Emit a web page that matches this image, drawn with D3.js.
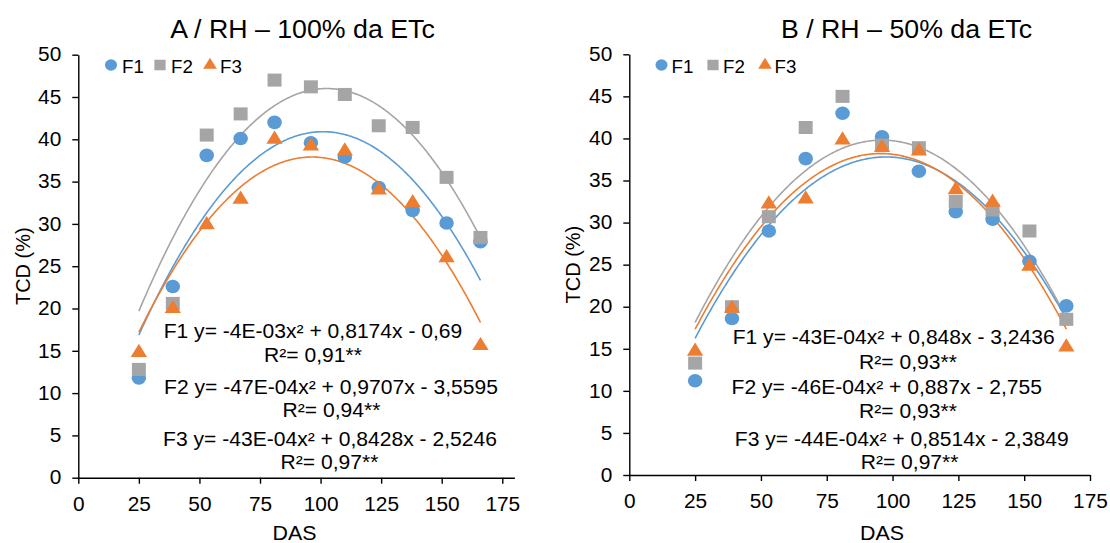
<!DOCTYPE html>
<html>
<head>
<meta charset="utf-8">
<script src="https://cdn.jsdelivr.net/npm/d3@7/dist/d3.min.js"></script>
<style>
  html, body { margin: 0; padding: 0; background: #fff; }
  svg { display: block; }
  text { font-family: "Liberation Sans", Arial, sans-serif; fill: #000; }
</style>
</head>
<body>
<svg id="chart" width="1110" height="543"></svg>
<script>
// ---------------- data ----------------
const das = [25, 39, 53, 67, 81, 96, 110, 124, 138, 152, 166];
const xTicks = [0, 25, 50, 75, 100, 125, 150, 175];
const yTicks = [0, 5, 10, 15, 20, 25, 30, 35, 40, 45, 50];
const seriesNames = ["F1", "F2", "F3"];

// Panel A: RH - 100% da ETc
const a_F1 = [11.8, 22.6, 38.1, 40.1, 42.0, 39.6, 37.9, 34.3, 31.6, 30.1, 27.9];
const a_F2 = [12.8, 20.6, 40.5, 43.0, 47.0, 46.2, 45.3, 41.6, 41.4, 35.5, 28.4];
const a_F3 = [14.8, 20.0, 29.9, 32.9, 40.0, 39.2, 38.6, 34.0, 32.5, 26.0, 15.6];
// Panel B: RH - 50% da ETc
const b_F1 = [11.2, 18.6, 29.0, 37.6, 43.0, 40.2, 36.1, 31.3, 30.4, 25.4, 20.1];
const b_F2 = [13.3, 20.0, 30.7, 41.3, 45.0, 39.2, 38.9, 32.5, 31.5, 29.0, 18.5];
const b_F3 = [14.7, 19.8, 32.2, 32.8, 39.8, 38.9, 38.5, 33.9, 32.4, 24.8, 15.2];

// quadratic trendline coefficients [a, b, c] (y = a x^2 + b x + c), estimated from the drawn curves
const trendA = [[-0.00416, 0.8403, -1.536], [-0.00438, 0.8979, -0.017], [-0.00405, 0.7817, 0.185]];
const trendB = [[-0.00410, 0.7995, -1.176], [-0.00430, 0.8256, 0.171], [-0.00420, 0.8022, -0.105]];
const trendRange = [25, 166];

const titles = ["A / RH \u2013 100% da ETc", "B / RH \u2013 50% da ETc"];
const eqA = ["F1 y= -4E-03x\u00B2 + 0,8174x - 0,69", "F2 y= -47E-04x\u00B2 + 0,9707x - 3,5595", "F3 y= -43E-04x\u00B2 + 0,8428x - 2,5246"];
const r2A = ["R\u00B2= 0,91**", "R\u00B2= 0,94**", "R\u00B2= 0,97**"];
const eqB = ["F1 y= -43E-04x\u00B2 + 0,848x - 3,2436", "F2 y= -46E-04x\u00B2 + 0,887x - 2,755", "F3 y= -44E-04x\u00B2 + 0,8514x - 2,3849"];
const r2B = ["R\u00B2= 0,93**", "R\u00B2= 0,93**", "R\u00B2= 0,97**"];
const xLabel = "DAS";
const yLabel = "TCD (%)";

// ---------------- styles / layout ----------------
const colors = ["#5B9BD5", "#A5A5A5", "#ED7D31"];
const symbols = [d3.symbolCircle, d3.symbolSquare, d3.symbolTriangle];
const markerSize = [145, 170, 100];
const legendSize = [100, 110, 70];
const SX = 1.07; // horizontal stretch of the reference

const panels = [
  {
    series: [a_F1, a_F2, a_F3], trend: trendA, eq: eqA, r2: r2A, title: titles[0],
    xmax: 180, xr: [78.3, 514.4], yr: [477.7, 54.7],
    titleX: 302.5, titleY: 38,
    legendMarkX: [111, 160, 210], legendTextX: [122, 171, 220],
    eqPos: [[313, 338.3], [331, 394], [330, 445.7]],
    r2Pos: [[313, 361.7], [331.5, 417.3], [329.5, 469]],
    yLabelX: 23, dasX: 294.5
  },
  {
    series: [b_F1, b_F2, b_F3], trend: trendB, eq: eqB, r2: r2B, title: titles[1],
    xmax: 175, xr: [629.3, 1090], yr: [475, 54.3],
    titleX: 906.5, titleY: 37.5,
    legendMarkX: [661.5, 713, 765], legendTextX: [671.5, 723, 774.5],
    eqPos: [[893.7, 344], [886.8, 394], [901.7, 445.7]],
    r2Pos: [[908, 368.7], [908, 418.3], [909.6, 469]],
    yLabelX: 573, dasX: 882
  }
];

const svg = d3.select("#chart");

function addText(g, x, y, str, size, anchor) {
  return g.append("text")
    .attr("transform", `translate(${x},${y}) scale(${SX},1)`)
    .attr("text-anchor", anchor || "middle")
    .style("font-size", size + "px")
    .text(str);
}

panels.forEach(p => {
  const g = svg.append("g");
  const x = d3.scaleLinear().domain([0, p.xmax]).range(p.xr);
  const y = d3.scaleLinear().domain([0, 50]).range(p.yr);

  // axes
  const xAxis = d3.axisBottom(x).tickValues(xTicks).tickSize(6).tickSizeOuter(0).tickPadding(13).tickFormat(d3.format("d"));
  const yAxis = d3.axisLeft(y).tickValues(yTicks).tickSize(6).tickSizeOuter(0).tickPadding(11).tickFormat(d3.format("d"));

  const gx = g.append("g").attr("transform", `translate(0,${p.yr[0]})`).call(xAxis);
  const gy = g.append("g").attr("transform", `translate(${p.xr[0]},0)`).call(yAxis);
  [gx, gy].forEach(a => {
    a.select(".domain").attr("stroke", "#000").attr("stroke-width", 1.4);
    a.selectAll(".tick line").attr("stroke", "#000").attr("stroke-width", 1.4);
    a.selectAll(".tick text")
      .style("font-size", "19.5px")
      .style("font-family", "'Liberation Sans', Arial, sans-serif")
      .attr("fill", "#000");
  });
  gx.selectAll(".tick text").attr("transform", `scale(${SX},1)`).attr("x", 0);
  gy.selectAll(".tick text").each(function () {
    const t = d3.select(this);
    const xx = +t.attr("x");
    t.attr("x", null).attr("transform", `translate(${xx},0) scale(${SX},1)`);
  });

  // trendlines
  const xs = d3.range(trendRange[0], trendRange[1] + 0.001, 0.5);
  p.trend.forEach((c, i) => {
    const f = v => c[0] * v * v + c[1] * v + c[2];
    g.append("path")
      .attr("d", d3.line().x(d => x(d)).y(d => y(f(d)))(xs))
      .attr("fill", "none")
      .attr("stroke", colors[i])
      .attr("stroke-width", 1.6);
  });

  // markers
  p.series.forEach((s, i) => {
    g.append("g").selectAll("path").data(s).join("path")
      .attr("transform", (d, j) => `translate(${x(das[j])},${y(d)}) scale(${SX},1)`)
      .attr("d", d3.symbol().type(symbols[i]).size(markerSize[i]))
      .attr("fill", colors[i]);
  });

  // title
  addText(g, p.titleX, p.titleY, p.title, 25, "middle");

  // legend
  seriesNames.forEach((n, i) => {
    g.append("path")
      .attr("transform", `translate(${p.legendMarkX[i]},65) scale(${SX},1)`)
      .attr("d", d3.symbol().type(symbols[i]).size(legendSize[i]))
      .attr("fill", colors[i]);
    addText(g, p.legendTextX[i], 72.5, n, 17.5, "start");
  });

  // equations
  p.eq.forEach((e, i) => {
    addText(g, p.eqPos[i][0], p.eqPos[i][1], e, 19.7, "middle");
    addText(g, p.r2Pos[i][0], p.r2Pos[i][1], p.r2[i], 19.7, "middle");
  });

  // axis titles
  addText(g, p.dasX, 540, xLabel, 20, "middle");
  g.append("text")
    .attr("transform", `translate(${p.yLabelX + 7},${(p.yr[0] + p.yr[1]) / 2}) rotate(-90)`)
    .attr("text-anchor", "middle")
    .style("font-size", "20px")
    .text(yLabel);
});
</script>
</body>
</html>
